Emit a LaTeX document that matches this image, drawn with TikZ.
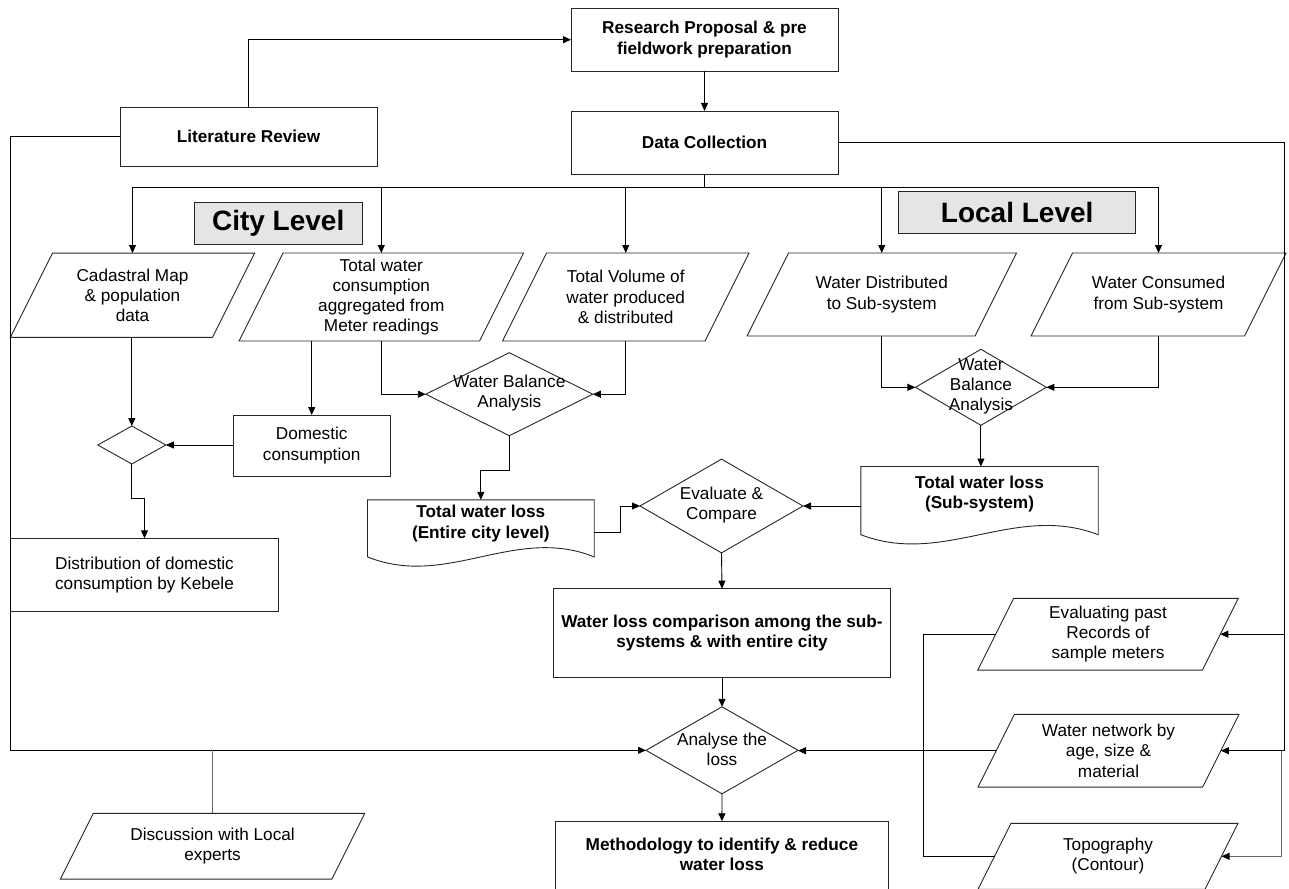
\documentclass[tikz,border=0pt]{standalone}
\usepackage{fontspec}
\setmainfont{Liberation Sans}
\usetikzlibrary{arrows.meta,calc,shapes.geometric}

\tikzset{
 base/.style={font=\fontsize{17.2}{20.3}\selectfont, align=center, inner sep=0pt, outer sep=0pt},
 bold/.style={base, font=\fontsize{17.2}{20.3}\selectfont\bfseries},
 shapeline/.style={draw=black!85, line width=0.9pt},
 box/.style={base, shapeline, rectangle},
 bbox/.style={bold, shapeline, rectangle},
 lvl/.style={shapeline, rectangle, fill=black!10, inner sep=0pt, font=\fontsize{28}{32}\selectfont\bfseries},
 dia/.style={shapeline, diamond, inner sep=0pt, outer sep=0pt},
 conn/.style={draw=black, line width=0.9pt},
 arr/.style={conn, -{Triangle[length=8pt,width=7pt]}},
 gconn/.style={conn, draw=black!60},
 garr/.style={gconn, -{Triangle[length=8pt,width=7pt,color=black]}},
}

\newcommand\pgramnode[7]{%
  \node[base,#6,minimum width=#4pt,minimum height=#5pt] (#1) at (#2,#3) {#7};
  \draw[shapeline] ($(#1.north west)+(0.5*#5,0)$) -- (#1.north east) -- ($(#1.south east)+(-0.5*#5,0)$) -- (#1.south west) -- cycle;
  \coordinate (#1-e) at ($(#1.east)+(-0.25*#5,0)$);
  \coordinate (#1-w) at ($(#1.west)+(0.25*#5,0)$);
}
\newcommand\docshape[1]{%
  \draw[shapeline] (#1.south west) -- (#1.north west) -- (#1.north east) -- (#1.south east)
    .. controls ($(#1.south east)!0.35!(#1.south west)+(0,-32)$) and ($(#1.south east)!0.65!(#1.south west)+(0,32)$) .. (#1.south west) -- cycle;
}

\begin{document}
\begin{tikzpicture}[x=1pt,y=-1pt]
\useasboundingbox (0,0) rectangle (1289,888);
\clip (0,0) rectangle (1289,888);

% top boxes
\node[bbox, minimum width=267pt, minimum height=62.7pt] (research) at (704.5,39.7) {Research Proposal \& pre\\fieldwork preparation};
\node[bbox, minimum width=257pt, minimum height=59pt] (lit) at (248.5,136.5) {Literature Review};
\node[bbox, minimum width=267pt, minimum height=63pt] (data) at (704.5,142.5) {Data Collection};
\node[lvl, minimum width=167.6pt, minimum height=42pt] (city) at (278.2,223) {City Level};
\node[lvl, minimum width=237pt, minimum height=42pt] (local) at (1017.2,212) {Local Level};

% inputs
\pgramnode{cad}{132.5}{295.2}{244.2}{84.3}{}{Cadastral Map\\\& population\\data}
\pgramnode{twc}{381.3}{297}{284.6}{88}{}{Total water\\consumption\\aggregated from\\Meter readings}
\pgramnode{tvol}{625.75}{297}{246.5}{88}{}{Total Volume of\\water produced\\\& distributed}
\pgramnode{wdist}{881.75}{294.5}{269.5}{83}{}{Water Distributed\\to Sub-system}
\pgramnode{wcons}{1158.5}{294.5}{255}{83}{}{Water Consumed\\from Sub-system}

% city branch
\node[dia, minimum width=68pt, minimum height=38pt] (sdia) at (131.8,445) {};
\node[box, minimum width=156.6pt, minimum height=61pt] (dom) at (311.7,445.5) {Domestic\\consumption};
\node[box, minimum width=268.2pt, minimum height=73.4pt] (dist) at (144.5,575) {Distribution of domestic\\consumption by Kebele};
\node[dia, minimum width=167pt, minimum height=83pt] (wba1) at (509.3,394.2) {};
\node[base] (wba1t) at (509.3,393.3) {Water Balance\\Analysis};
\node[inner sep=0pt, minimum width=226.3pt, minimum height=56.7pt] (doc1) at (480.85,528.35) {};
\docshape{doc1}
\node[bold] (doc1t) at (480.85,523.5) {Total water loss\\(Entire city level)};

% local branch
\node[dia, minimum width=131pt, minimum height=76pt] (wba2) at (980.9,387.3) {};
\node[base] (wba2t) at (980.9,386.3) {Water\\Balance\\Analysis};
\node[inner sep=0pt, minimum width=237pt, minimum height=67.8pt] (doc2) at (979.5,500.6) {};
\docshape{doc2}
\node[bold] (doc2t) at (979.5,494) {Total water loss\\(Sub-system)};

% centre column
\node[dia, minimum width=163pt, minimum height=93.7pt] (evc) at (721.5,506) {};
\node[base] (evct) at (721.5,505) {Evaluate \&\\Compare};
\node[bbox, minimum width=336.9pt, minimum height=89pt] (cmp) at (722,633.2) {Water loss comparison among the sub-\\systems \& with entire city};
\node[dia, minimum width=152pt, minimum height=87pt] (ana) at (722,750.3) {};
\node[base] (anat) at (722,749.5) {Analyse the\\loss};
\node[shapeline, rectangle, minimum width=332.8pt, minimum height=80pt] (meth) at (721.9,861.7) {};
\node[bold] (metht) at (721.9,854) {Methodology to identify \& reduce\\water loss};

% bottom left and right inputs
\pgramnode{disc}{212.6}{846.2}{304.3}{65.7}{}{Discussion with Local\\experts}
\pgramnode{evp}{1108}{634.2}{260.4}{71.7}{}{Evaluating past\\Records of\\sample meters}
\pgramnode{wnet}{1108.5}{750.7}{261}{72.7}{}{Water network by\\age, size \&\\material}
\pgramnode{topo}{1108}{856.3}{260}{66}{}{Topography\\(Contour)}

% helper coordinates
\coordinate (busy) at (0,187);
\coordinate (lx) at (10.3,0);
\coordinate (rx) at (1284.3,0);
\coordinate (ix) at (923.3,0);

% connectors
\draw[arr] (lit.north) |- (research.west);
\draw[arr] (research.south) -- (data.north);
\draw[conn] (data.south) -- (data.south |- busy);
\draw[conn] (cad.north |- busy) -- (wcons.north |- busy);
\foreach \n in {cad,twc,tvol,wdist,wcons} \draw[arr] (\n.north |- busy) -- (\n.north);
\draw[conn] (lit.west) -| (lx |- ana.west);
\draw[arr] (lx |- ana.west) -- (ana.west);
\draw[gconn] (disc.north) -- (disc.north |- ana.west);
\draw[arr] (sdia.north |- cad.south) -- (sdia.north);
\draw[arr] (dom.north |- twc.south) -- (dom.north);
\draw[arr] (dom.west |- sdia.east) -- (sdia.east);
\draw[arr] (sdia.south) -- ++(0,34) -| (dist.north);
\draw[arr] (twc.south) |- (wba1.west);
\draw[arr] (tvol.south) |- (wba1.east);
\draw[arr] (wba1.south) -- ++(0,34.3) -| (doc1.north);
\draw[arr] (wdist.south) |- (wba2.west);
\draw[arr] (wcons.south) |- (wba2.east);
\draw[arr] (wba2.south) -- (wba2.south |- doc2.north);
\draw[arr] (doc2.west |- evc.east) -- (evc.east);
\draw[arr] ($(doc1.east)+(0,4.4)$) -- ++(26.6,0) |- (evc.west);
\draw[arr] (evc.south) -- (cmp.north);
\draw[arr] (cmp.south) -- (ana.north);
\draw[arr] (ana.south) -- (meth.north);
\draw[arr] (wnet-w) -- (wnet-w -| ana.east);
\draw[conn] (evp-w) -| (ix |- topo-w) -- (topo-w);
\draw[conn] (data.east) -| (rx |- wnet-e);
\draw[arr] (rx |- evp-e) -- (evp-e);
\draw[arr] (rx |- wnet-e) -- (wnet-e);
\draw[garr] ($(rx |- wnet-e)+(-2.6,0)$) |- (topo-e);
\end{tikzpicture}
\end{document}
